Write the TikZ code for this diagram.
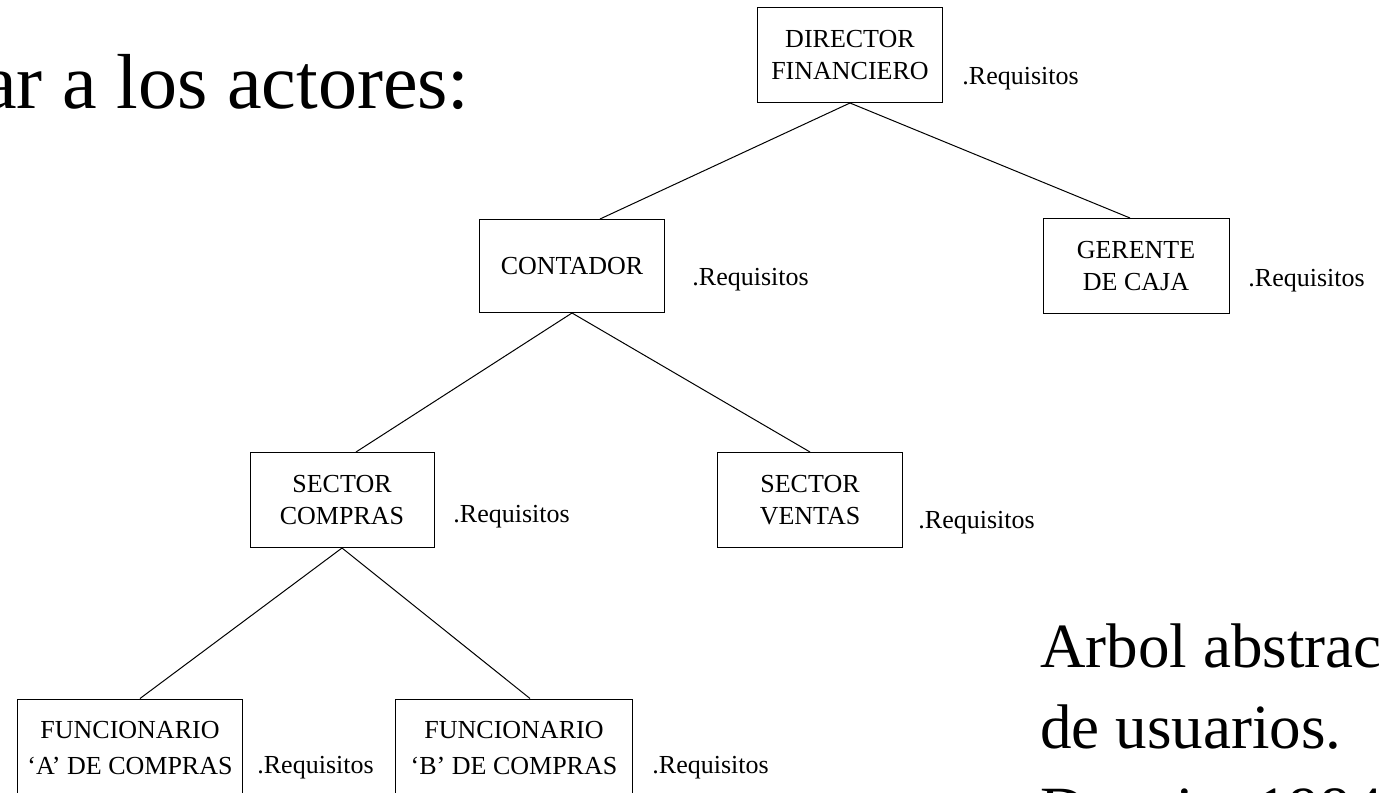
\documentclass[tikz,border=0pt]{standalone}
\usepackage{fontspec}
\setmainfont{Liberation Serif}

\begin{document}
\begin{tikzpicture}[x=0.5pt,y=-0.5pt]
      \useasboundingbox (0,0) rectangle (1379,792);
      \clip (0,0) rectangle (1379,792);
      \node[anchor=base east,inner sep=0,font=\fontsize{39}{47}\selectfont] (titulo) at (470,108) {ar a los actores:};
      \begin{scope}[every node/.style={draw,line width=0.5pt,align=center,inner sep=2pt,minimum width=92.5pt,minimum height=47.5pt,font=\fontsize{13}{16}\selectfont}]
        \node (dir) at (850,55) {DIRECTOR\\FINANCIERO};
        \node[minimum height=46.5pt] (cont) at (572,266) {CONTADOR};
        \node[minimum width=93pt] (ger) at (1136,266) {GERENTE\\DE CAJA};
        \node[minimum width=92pt] (scomp) at (342,500) {SECTOR\\COMPRAS};
        \node (sven) at (810,500) {SECTOR\\VENTAS};
        \node[minimum width=112.5pt,minimum height=49pt,font=\fontsize{13}{18}\selectfont] (funa) at (130,748) {FUNCIONARIO\\`A' DE COMPRAS};
        \node[minimum width=118.5pt,minimum height=49pt,font=\fontsize{13}{18}\selectfont] (funb) at (514,748) {FUNCIONARIO\\`B' DE COMPRAS};
      \end{scope}
      \begin{scope}[every node/.style={anchor=base west,inner sep=0,font=\fontsize{13}{16}\selectfont}]
        \node (reqdir) at (962,84) {.Requisitos};
        \node (reqcont) at (692,285) {.Requisitos};
        \node (reqger) at (1248,286) {.Requisitos};
        \node (reqscomp) at (453,522) {.Requisitos};
        \node (reqsven) at (918,528) {.Requisitos};
        \node (reqfuna) at (257,773) {.Requisitos};
        \node (reqfunb) at (652,773) {.Requisitos};
      \end{scope}
      \begin{scope}[every edge/.style={draw,line width=0.5pt}]
        \path (dir.south) edge ([xshift=14pt]cont.north);
        \path (dir.south) edge ([xshift=-3pt]ger.north);
        \path (cont.south) edge ([xshift=7pt]scomp.north);
        \path (cont.south) edge (sven.north);
        \path (scomp.south) edge ([xshift=5pt]funa.north);
        \path (scomp.south) edge ([xshift=8pt]funb.north);
      \end{scope}
      \begin{scope}[every node/.style={anchor=base west,inner sep=0,font=\fontsize{31.5}{40}\selectfont}]
        \node (nota1) at (1040,667) {Arbol abstracto};
        \node (nota2) at (1040,748) {de usuarios.};
        \node (nota3) at (1040,830) {Dennis,\hspace{11pt}1984};
      \end{scope}
\end{tikzpicture}
\end{document}
